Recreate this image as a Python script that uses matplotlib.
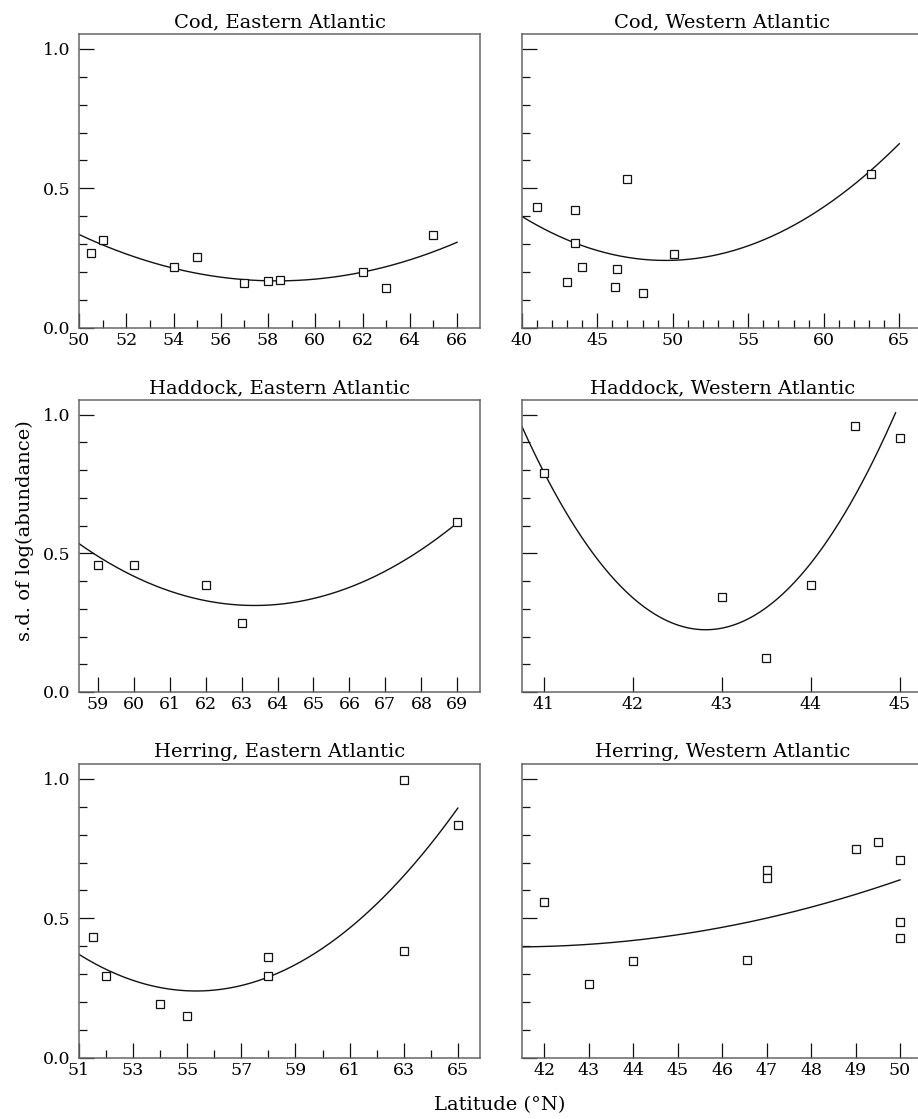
import numpy as np
import matplotlib.pyplot as plt

plt.rcParams['font.family'] = ['DejaVu Serif']
plt.rcParams['font.size'] = 12.5

# s.d. of log(abundance) against latitude, one panel per stock

cod_e_lat = [50.5, 51, 54, 55, 57, 58, 58.5, 62, 63, 65]
cod_e_sd = [0.270, 0.316, 0.220, 0.254, 0.160, 0.167, 0.172, 0.199, 0.142, 0.333]
cod_e_fit_x = [50, 58.7, 66]
cod_e_fit_y = [0.335, 0.169, 0.307]

cod_w_lat = [41, 43.5, 47, 43.5, 44, 46.3, 43, 46.2, 48, 50.1, 63.1]
cod_w_sd = [0.435, 0.421, 0.533, 0.306, 0.220, 0.212, 0.163, 0.146, 0.127, 0.266, 0.553]
cod_w_fit_x = [40, 49.6, 65]
cod_w_fit_y = [0.400, 0.242, 0.660]

had_e_lat = [59, 60, 62, 63, 69]
had_e_sd = [0.459, 0.457, 0.387, 0.248, 0.614]
had_e_fit_x = [58.48, 63.3, 69]
had_e_fit_y = [0.535, 0.312, 0.610]

had_w_lat = [41, 43, 43.5, 44, 44.5, 45]
had_w_sd = [0.791, 0.342, 0.121, 0.385, 0.959, 0.915]
had_w_fit_x = [40.75, 42.87, 44.95]
had_w_fit_y = [0.959, 0.225, 1.007]

her_e_lat = [51.5, 52, 54, 55, 58, 58, 63, 63, 65]
her_e_sd = [0.433, 0.294, 0.194, 0.151, 0.361, 0.293, 0.994, 0.382, 0.833]
her_e_fit_x = [51, 55.35, 65]
her_e_fit_y = [0.371, 0.240, 0.895]

her_w_lat = [42, 43, 44, 46.55, 47, 47, 49, 49.5, 50, 50, 50]
her_w_sd = [0.559, 0.264, 0.348, 0.350, 0.672, 0.644, 0.749, 0.774, 0.708, 0.487, 0.431]
her_w_fit_x = [41.49, 46.0, 50.0]
her_w_fit_y = [0.398, 0.468, 0.638]

titles = ["Cod, Eastern Atlantic", "Cod, Western Atlantic",
          "Haddock, Eastern Atlantic", "Haddock, Western Atlantic",
          "Herring, Eastern Atlantic", "Herring, Western Atlantic"]

panels = [
    (cod_e_lat, cod_e_sd, cod_e_fit_x, cod_e_fit_y),
    (cod_w_lat, cod_w_sd, cod_w_fit_x, cod_w_fit_y),
    (had_e_lat, had_e_sd, had_e_fit_x, had_e_fit_y),
    (had_w_lat, had_w_sd, had_w_fit_x, had_w_fit_y),
    (her_e_lat, her_e_sd, her_e_fit_x, her_e_fit_y),
    (her_w_lat, her_w_sd, her_w_fit_x, her_w_fit_y),
]

xlims = [(50, 66.97), (40, 66.55), (58.48, 69.63),
         (40.75, 45.255), (51, 65.82), (41.49, 50.51)]
xmajor = [np.arange(50, 67, 2), np.arange(40, 66, 5), np.arange(59, 70, 1),
          np.arange(41, 46, 1), np.arange(51, 66, 2), np.arange(42, 51, 1)]
xminor = [np.arange(50, 67, 1), np.arange(40, 66, 1), [], [],
          np.arange(51, 66, 1), []]

fig = plt.figure(figsize=(9.18, 11.19), dpi=100)

W, H = 918, 1119
col_left = [79, 521.7]
col_width = 401
row_top = [34, 400, 764]
row_bot = [328, 692, 1058]

spine_col = '#666666'

for i in range(6):
    r, c = divmod(i, 2)
    ax = fig.add_axes([col_left[c] / W, 1 - row_bot[r] / H,
                       col_width / W, (row_bot[r] - row_top[r]) / H])
    lat, sd, fx, fy = panels[i]

    # quadratic fit through the curve readings
    coef = np.polyfit(fx, fy, 2)
    xx = np.linspace(fx[0], fx[-1], 200)
    ax.plot(xx, np.polyval(coef, xx), color='#111111', lw=1.0)
    ax.plot(lat, sd, ls='none', marker='s', ms=6.2, mfc='white',
            mec='#111111', mew=0.9)

    ax.set_xlim(*xlims[i])
    ax.set_ylim(0, 1.053)
    ax.set_xticks(xmajor[i])
    ax.set_xticks(xminor[i], minor=True)
    ax.set_yticks([0, 0.5, 1.0])
    ax.set_yticks(np.arange(0, 1.01, 0.1), minor=True)
    ax.set_yticklabels(['0.0', '0.5', '1.0'])

    ax.tick_params(which='major', direction='in', length=11, width=0.9,
                   color='#111111', labelsize=12.5)
    ax.tick_params(which='minor', direction='in', length=5.5, width=0.9,
                   color='#111111')
    ax.tick_params(axis='x', pad=3)
    ax.tick_params(axis='y', pad=6)
    if c == 1:
        ax.tick_params(axis='y', labelleft=False)

    for s in ax.spines.values():
        s.set_color(spine_col)
        s.set_linewidth(1.1)

    ax.set_title(titles[i], fontsize=14, pad=5)

fig.text(25 / W, 1 - 531 / H, "s.d. of log(abundance)", rotation=90,
         ha='center', va='center', fontsize=14)
fig.text(500 / W, 1 - 1105 / H, "Latitude (\u00b0N)", ha='center',
         va='center', fontsize=14)

fig.savefig("out.png", dpi=100)
